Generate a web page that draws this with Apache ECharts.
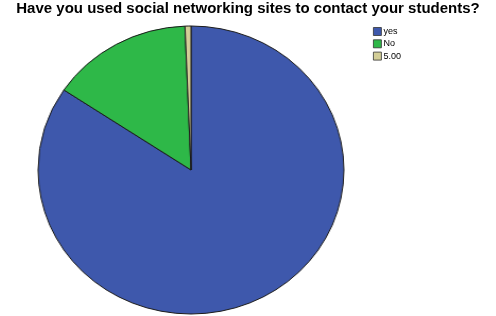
<!DOCTYPE html>
<html><head><meta charset="utf-8">
<script src="https://cdn.jsdelivr.net/npm/echarts@6/dist/echarts.min.js"></script>
<style>
html,body{margin:0;padding:0;background:#fff;}
#wrap{position:relative;width:496px;height:316px;overflow:hidden;}
#pie{position:absolute;left:46px;top:25px;width:290px;height:290px;transform-origin:145px 145px;transform:scaleX(1.062);}
#main{position:absolute;left:0;top:0;width:496px;height:316px;}
</style>
</head><body>
<div id="wrap"><div id="pie"></div><div id="main"></div></div>
<script>
const titleText = "Have you used social networking sites to contact your students?";
const categories = ["yes", "No", "5.00"];
const counts = [135, 24, 1];
const colors = ["#3E58AC", "#2EB848", "#D3CE97"];

const pieChart = echarts.init(document.getElementById('pie'), null, {renderer: 'canvas'});
pieChart.setOption({
  animation: false,
  series: [{
    type: 'pie',
    center: ['50%', '50%'],
    radius: ['0%', 144],
    startAngle: 90,
    clockwise: true,
    label: {show: false},
    labelLine: {show: false},
    emphasis: {disabled: true},
    itemStyle: {borderColor: '#1a1a1a', borderWidth: 1},
    data: categories.map((c, i) => ({name: c, value: counts[i], itemStyle: {color: colors[i]}}))
  }]
});

const mainChart = echarts.init(document.getElementById('main'), null, {renderer: 'canvas'});
mainChart.setOption({
  animation: false,
  backgroundColor: 'transparent',
  title: {
    text: titleText,
    left: 'center',
    top: 0,
    padding: [1, 5, 5, 5],
    textStyle: {fontFamily: 'Liberation Sans, Arial, sans-serif', fontWeight: 'bold', fontSize: 15, color: '#000'}
  },
  legend: {
    orient: 'vertical',
    left: 368,
    top: 22,
    itemWidth: 8,
    itemHeight: 8,
    itemGap: 3.3,
    icon: 'rect',
    data: categories,
    selectedMode: false,
    textStyle: {fontFamily: 'Liberation Sans, Arial, sans-serif', fontSize: 9, color: '#000', padding: [0,0,0,-3]},
    itemStyle: {borderColor: '#333', borderWidth: 0.8}
  },
  series: [{
    type: 'pie',
    radius: 0,
    silent: true,
    label: {show: false},
    data: categories.map((c, i) => ({name: c, value: counts[i], itemStyle: {color: colors[i]}}))
  }]
});
</script>
</body></html>
